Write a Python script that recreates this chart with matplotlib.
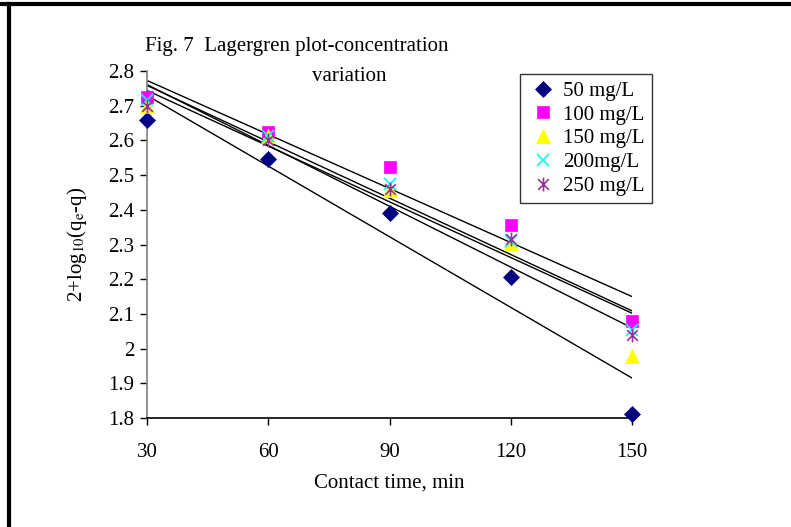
import numpy as np
import matplotlib
matplotlib.use('Agg')
import matplotlib.pyplot as plt
from matplotlib.path import Path
from matplotlib.lines import Line2D

plt.rcParams['font.family'] = ['Liberation Serif', 'DejaVu Serif']
plt.rcParams['mathtext.fontset'] = 'stix'

# contact time, min
time = [30, 60, 90, 120, 150]
# 2+log10(qe-q) for each initial concentration
c50 = [2.66, 2.545, 2.39, 2.205, 1.812]
c100 = [2.725, 2.623, 2.523, 2.356, 2.08]
c150 = [2.70, 2.612, 2.458, 2.303, 1.978]
c200 = [2.716, 2.612, 2.475, 2.31, 2.055]
c250 = [2.70, 2.60, 2.46, 2.315, 2.04]
labels = ['50 mg/L', '100 mg/L', '150 mg/L', '200mg/L', '250 mg/L']

# excel style star marker (x with a vertical bar)
star = Path([(-1, -1), (1, 1), (-1, 1), (1, -1), (0, -1.3), (0, 1.3)],
            [Path.MOVETO, Path.LINETO, Path.MOVETO, Path.LINETO, Path.MOVETO, Path.LINETO])

styles = [
    dict(marker='D', color='#000080', ms=8.5),
    dict(marker='s', color='#FF00FF', ms=8),
    dict(marker='^', color='#FFFF00', ms=10),
    dict(marker='x', color='#00FFFF', ms=9, mew=1.2),
    dict(marker=star, color='#993399', ms=10, mew=1.2),
]

fs = 15

fig = plt.figure(figsize=(7.91, 5.27), dpi=100)
ax = fig.add_axes([147 / 791, 1 - 418 / 527, (632 - 147) / 791, (418 - 71) / 527])

series = [c50, c100, c150, c200, c250]
for y in series:
    k, b = np.polyfit(time, y, 1)
    xs = np.array([time[0], time[-1]])
    ax.plot(xs, k * xs + b, color='black', lw=1, zorder=2)
for y, st, lab in zip(series, styles, labels):
    kw = dict(ls='none', marker=st['marker'], ms=st['ms'], label=lab, clip_on=False, zorder=3)
    if st['marker'] == 'x' or isinstance(st['marker'], Path):
        kw.update(mfc='none', mec=st['color'], mew=st['mew'])
    else:
        kw.update(mfc=st['color'], mec=st['color'], mew=0.5)
    ax.plot(time, y, **kw)

ax.set_xlim(30, 150)
ax.set_ylim(1.8, 2.8)
ax.set_xticks(time)
ax.set_yticks(np.round(np.arange(1.8, 2.81, 0.1), 1))
ax.set_yticklabels(['1.8', '1.9', '2', '2.1', '2.2', '2.3', '2.4', '2.5', '2.6', '2.7', '2.8'])
ax.spines['top'].set_visible(False)
ax.spines['right'].set_visible(False)
ax.spines['left'].set_color('#808080')
ax.spines['left'].set_linewidth(1.2)
ax.spines['bottom'].set_linewidth(1.2)
ax.tick_params(axis='both', labelsize=fs, direction='out', length=5, width=1)
ax.tick_params(axis='x', pad=13)
ax.tick_params(axis='y', pad=4)

ax.set_xlabel('Contact time, min', fontsize=fs, labelpad=8)
ax.set_ylabel('2+log$_{10}$(q$_{\\mathrm{e}}$-q)', fontsize=fs, labelpad=14)

fig.text(145 / 791, 1 - 47 / 527, 'Fig. 7  Lagergren plot-concentration', fontsize=fs, va='center', ha='left')
fig.text(349 / 791, 1 - 76 / 527, 'variation', fontsize=fs, va='center', ha='center')

leg = ax.legend(loc='upper left', bbox_to_anchor=((520 - 147) / 485, 1 - (74 - 71) / 347),
                fontsize=fs, frameon=True, fancybox=False, borderpad=0.35,
                handletextpad=0.2, handlelength=1.5, labelspacing=0.2, borderaxespad=0)
leg.get_frame().set_edgecolor('black')
leg.get_frame().set_linewidth(1)

# outer frame lines (top and left)
fig.add_artist(Line2D([0, 1], [1 - 4 / 527, 1 - 4 / 527], color='black', lw=3, transform=fig.transFigure))
fig.add_artist(Line2D([9 / 791, 9 / 791], [0, 1 - 4 / 527], color='black', lw=3, transform=fig.transFigure))

fig.savefig('out.png', dpi=100)
